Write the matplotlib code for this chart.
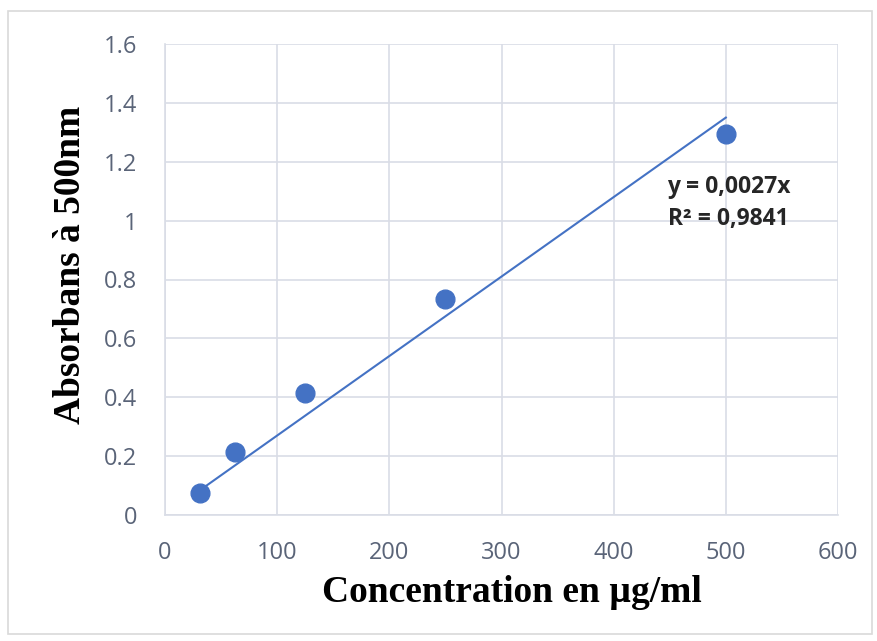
import matplotlib.pyplot as plt
import matplotlib.patches as patches
import numpy as np

conc = [31.25, 62.5, 125, 250, 500]
absorb = [0.075, 0.215, 0.415, 0.735, 1.295]
slope = 0.0027
eq_text = "y = 0,0027x\nR² = 0,9841"

xticks = [0, 100, 200, 300, 400, 500, 600]
yticks = [0, 0.2, 0.4, 0.6, 0.8, 1.0, 1.2, 1.4, 1.6]
ytick_labels = ["0", "0.2", "0.4", "0.6", "0.8", "1", "1.2", "1.4", "1.6"]

blue = "#4472c4"
grid_col = "#d9dde6"
tick_col = "#5a6478"

fig = plt.figure(figsize=(8.78, 6.41), dpi=100)
ax = fig.add_axes([165 / 878, 1 - 515 / 641, (838 - 165) / 878, (515 - 44) / 641])

# outer chart border
fig.patches.append(patches.Rectangle((8 / 878, 1 - 634 / 641), 864 / 878, 623 / 641,
                                     transform=fig.transFigure, fill=False,
                                     edgecolor="#d9d9d9", linewidth=1.2))

# trendline through origin
xl = np.array([conc[0], conc[-1]])
ax.plot(xl, slope * xl, color=blue, linewidth=1.5, zorder=3)
ax.plot(conc, absorb, "o", color=blue, markersize=13.5, zorder=4)

ax.set_xlim(0, 600)
ax.set_ylim(0, 1.6)
ax.set_xticks(xticks)
ax.set_yticks(yticks)
ax.set_yticklabels(ytick_labels)
ax.grid(True, color=grid_col, linewidth=1.2)
ax.set_axisbelow(True)
for s in ["top", "right"]:
    ax.spines[s].set_visible(False)
for s in ["left", "bottom"]:
    ax.spines[s].set_color(grid_col)
    ax.spines[s].set_linewidth(1.2)
ax.tick_params(axis="x", length=0, pad=19, labelsize=17, labelcolor=tick_col)
ax.tick_params(axis="y", length=0, pad=20, labelsize=17, labelcolor=tick_col)
for lab in ax.get_xticklabels() + ax.get_yticklabels():
    lab.set_fontfamily("Open Sans")

ax.set_xlabel("Concentration en µg/ml", fontsize=27, fontweight="bold",
              family="Liberation Serif")
ax.set_ylabel("Absorbans à 500nm", fontsize=27, fontweight="bold",
              family="Liberation Serif")
ax.xaxis.set_label_coords(0.516, -0.128)
ax.yaxis.set_label_coords(-0.115, 0.53)

ax.text(448, 1.06, eq_text, fontsize=16.5, fontweight="bold", family="Open Sans",
        color="#262626", linespacing=1.45, va="center", ha="left")

fig.savefig("out.png", dpi=100)
